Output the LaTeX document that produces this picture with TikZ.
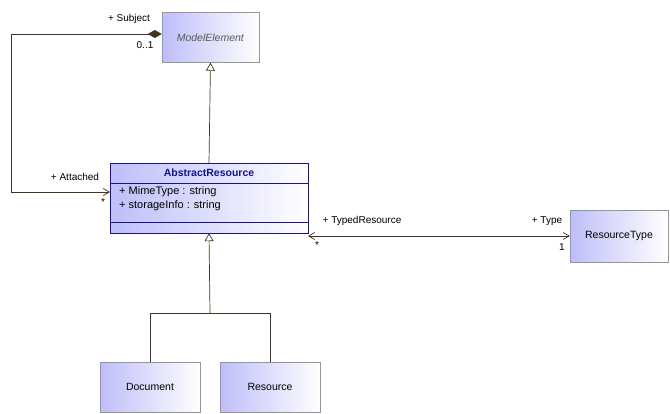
\documentclass[tikz,border=0pt]{standalone}
\usepackage{fontspec}
\setmainfont{Liberation Sans}
\usetikzlibrary{arrows.meta}
\definecolor{lav}{RGB}{190,190,250}
\definecolor{bord}{RGB}{150,150,150}
\definecolor{navy}{RGB}{20,20,140}
\definecolor{ln}{RGB}{70,50,30}
\begin{document}
\begin{tikzpicture}[x=1pt,y=-1pt,
  cls/.style={draw=bord,left color=lav,right color=white,minimum width=#1,minimum height=50,inner sep=0,font=\fontsize{10.5}{12}\selectfont},
  lbl/.style={font=\fontsize{10}{11}\selectfont,inner sep=1},
  con/.style={draw=ln,line width=0.7pt},
  gen/.style={con,-{Triangle[open,length=8,width=9,fill=white]}}]
\useasboundingbox (0,0) rectangle (670,413);
\node[cls=97,text=black!65] (me) at (210.5,37.5) {\textit{ModelElement}};
\node[cls=98,minimum height=52] (rt) at (619,236) {ResourceType};
\node[cls=100] (doc) at (150,387) {Document};
\node[cls=100] (res) at (270,387) {Resource};
\node[draw=navy,left color=lav,right color=white,minimum width=198,minimum height=70,inner sep=0] (ar) at (209,198) {};
\draw[navy] (110,183) -- (308,183) (110,222) -- (308,222);
\node[font=\fontsize{10.5}{12}\selectfont\bfseries,text=navy] (arn) at (209,173) {AbstractResource};
\node[font=\fontsize{11}{14}\selectfont,anchor=north west,align=left,inner sep=0] (att) at (119,186) {+ MimeType : string\\+ storageInfo : string};
% generalizations
\draw[gen] (ar.north) -- (me.south);
\coordinate (j) at (210,313);
\draw[con] (doc.north) |- (j) (res.north) |- (j);
\draw[gen] (j) -- (ar.south);
% composition
\coordinate (c1) at (11,192);
\coordinate (c2) at (11,34);
\draw[con,{Straight Barb[length=6,width=7]}-{Diamond[length=14,width=8,fill=ln]}] (110,192) -- (c1) -- (c2) -- (me.west |- c2);
\node[lbl] (s) at (129,19) {+ Subject};
\node[lbl] (z) at (145,45) {0..1};
\node[lbl] (a) at (75,177) {+ Attached};
\node[lbl] (st) at (103,202) {*};
% association
\draw[con,{Straight Barb[length=6,width=7]}-{Straight Barb[length=6,width=7]}] (308,236) -- (rt.west);
\node[lbl] (tr) at (362,221) {+ TypedResource};
\node[lbl] (st2) at (317,245) {*};
\node[lbl] (ty) at (547,221) {+ Type};
\node[lbl] (one) at (562,247) {1};
\end{tikzpicture}
\end{document}
